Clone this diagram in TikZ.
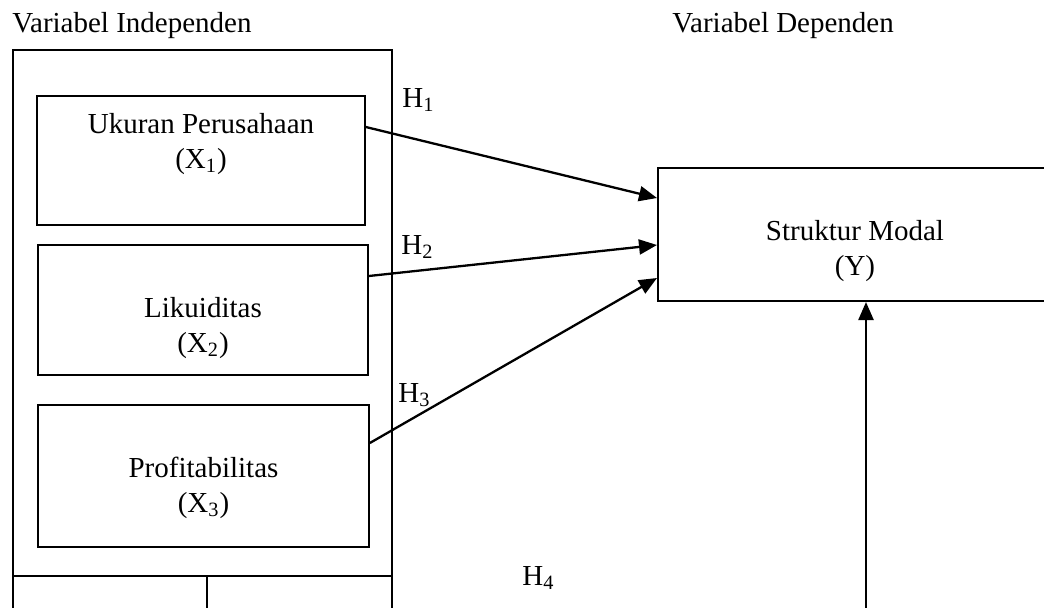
\documentclass[tikz,border=0pt]{standalone}
\usepackage{fontspec}
\setmainfont{Liberation Serif}
\usepackage{tikz}
\usetikzlibrary{arrows.meta, positioning, calc}

\begin{document}
\begin{tikzpicture}[x=0.5pt, y=-0.5pt, every node/.style={font=\fontsize{14.5}{17.5}\selectfont}]
                \tikzset{
                    varbox/.style={draw, line width=0.85pt, minimum width=164pt, inner sep=0pt},
                    boxtext/.style={anchor=base, align=center, inner sep=0pt},
                    hlabel/.style={anchor=base west, inner sep=0pt},
                    hyparrow/.style={-{Triangle[length=9pt, width=7.5pt]}, line width=1.15pt}
                }
                \useasboundingbox (0,0) rectangle (1044,607);
                \clip (0,0) rectangle (1044,607);

                \node[hlabel] (indtitle) at (12,32) {Variabel Independen};
                \node[hlabel] (deptitle) at (672,32) {Variabel Dependen};

                % kotak luar variabel independen
                \draw[line width=1.1pt] (13,640) -- (13,50) -- (392,50) -- (392,640);
                \draw[line width=1.1pt] (13,576) -- (392,576);
                \draw[line width=1.1pt] (207,576) -- (207,640);

                \node[varbox, minimum height=64.5pt] (ukuran) at (201,160.5) {};
                \node[varbox, minimum height=65pt, minimum width=165pt] (likuid) at (203,310) {};
                \node[varbox, minimum height=71pt, minimum width=165.5pt] (profit) at (203.5,476) {};
                \node[draw, line width=1pt, minimum width=197pt, minimum height=66.5pt] (modal) at (855,234.5) {};

                \node[boxtext] (ukurantext) at (201,168) {Ukuran Perusahaan\\(X\textsubscript{1})};
                \node[boxtext] (likuidtext) at (203,352) {Likuiditas\\(X\textsubscript{2})};
                \node[boxtext] (profittext) at (203.5,512) {Profitabilitas\\(X\textsubscript{3})};
                \node[boxtext] (modaltext) at (855,275) {Struktur Modal\\(Y)};

                \node[hlabel] (h1) at (402,107) {H\textsubscript{1}};
                \node[hlabel] (h2) at (401,254) {H\textsubscript{2}};
                \node[hlabel] (h3) at (398,402) {H\textsubscript{3}};
                \node[hlabel] (h4) at (522,585) {H\textsubscript{4}};

                \draw[hyparrow] ([yshift=16.75pt]ukuran.east) -- ([yshift=18.25pt]modal.west);
                \draw[hyparrow] ([yshift=17pt]likuid.east) -- ([yshift=-5.25pt]modal.west);
                \draw[hyparrow] ([yshift=16.5pt]profit.east) -- ([yshift=-21.75pt]modal.west);

                \coordinate (h4start) at (866,640);
                \draw[hyparrow] (h4start) -- (h4start |- modal.south);
            \end{tikzpicture}
\end{document}
